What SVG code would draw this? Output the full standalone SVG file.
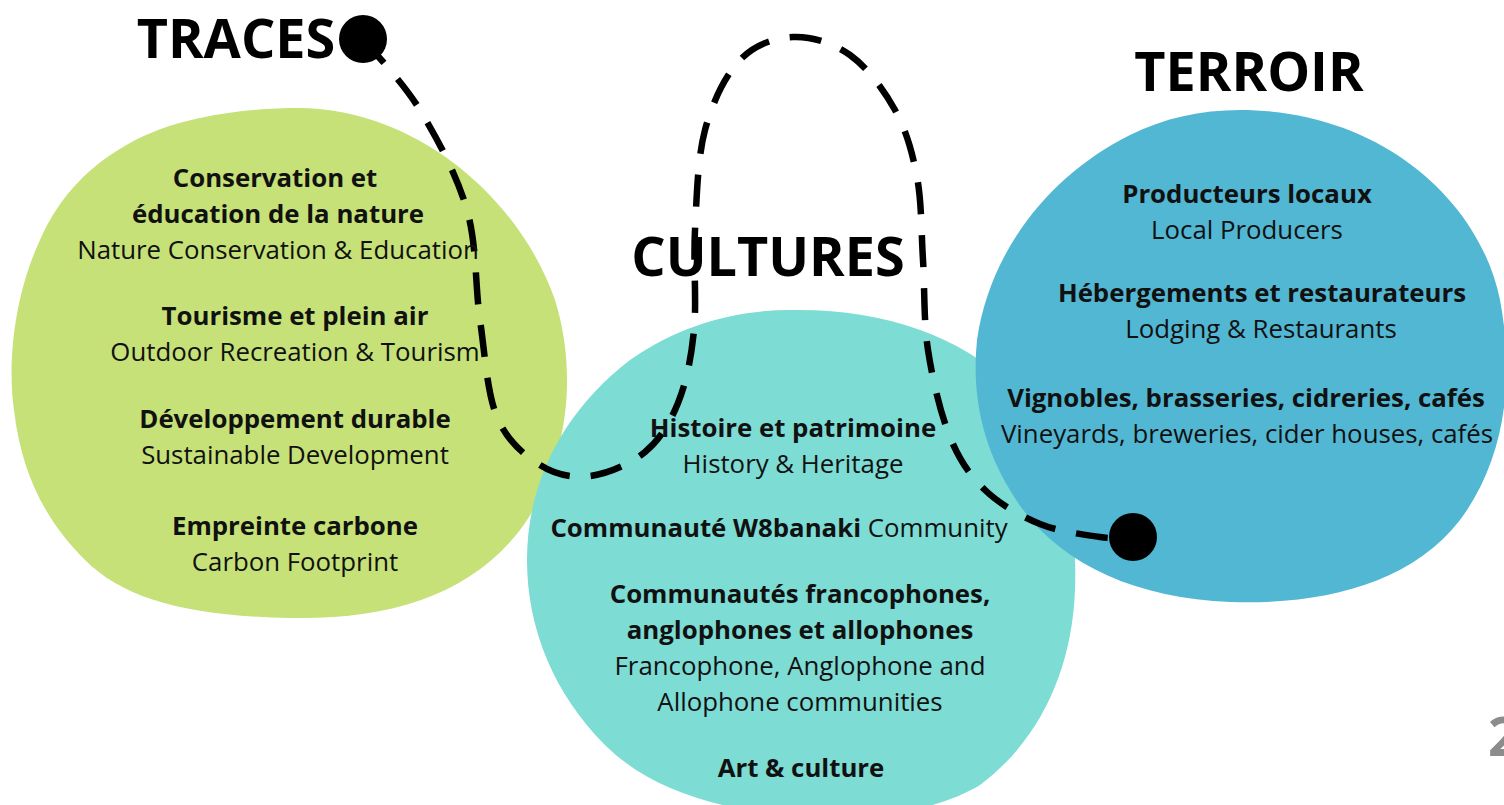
<svg xmlns="http://www.w3.org/2000/svg" width="1504" height="805" viewBox="0 0 1504 805">
<style>
text{font-family:"Open Sans","Liberation Sans",sans-serif;fill:#111;text-anchor:middle}
.t{font-size:54px;font-weight:700;fill:#000}
.b{font-size:25.8px;font-weight:700}
.r{font-size:25.8px;font-weight:400}
.dash{fill:none;stroke:#000;stroke-width:6.5;stroke-dasharray:32 21}
.dot{fill:#000}
</style>
<rect width="1504" height="805" fill="#fff"/>
<g id="traces-blob">
<path fill="#c5e178" d="M300,108 C420,110 520,200 555,300 C580,380 565,470 520,530 C470,595 390,620 290,618 C190,616 125,600 85,560 C50,525 22,480 14,410 C8,370 12,300 40,240 C60,195 90,165 130,143 C175,118 240,108 300,108 Z"/>
</g>
<g id="cultures-blob">
<path fill="#7ddcd4" d="M790,310 C880,308 960,335 1010,385 C1060,440 1078,510 1075,590 C1072,670 1040,740 980,785 C930,815 860,820 790,815 C720,810 650,790 605,745 C555,695 527,630 527,560 C527,480 565,410 630,360 C680,325 735,310 790,310 Z"/>
</g>
<g id="terroir-blob">
<path fill="#52b7d3" d="M1240,110 C1380,110 1480,200 1500,300 C1515,380 1505,460 1460,520 C1410,585 1320,605 1230,602 C1130,598 1050,560 1010,490 C980,440 972,390 977,340 C990,250 1050,175 1130,135 C1165,118 1200,110 1240,110 Z"/>
</g>
<g id="connectors">
<path class="dash" d="M363,39 C372.5,50.8 402.7,81.5 420,110 C437.3,138.5 457,175 467,210 C477,245 475,285.5 480,320 C485,354.5 487,392.8 497,417 C507,441.2 524.5,455.2 540,465 C555.5,474.8 572.5,478.2 590,476 C607.5,473.8 630.3,464.2 645,452 C659.7,439.8 669.8,423.3 678,403 C686.2,382.7 691.2,358.8 694,330 C696.8,301.2 693.2,263.3 695,230 C696.8,196.7 697.5,158.3 705,130 C712.5,101.7 725.3,75.5 740,60 C754.7,44.5 774.7,37.8 793,37 C811.3,36.2 833,42.8 850,55 C867,67.2 883.8,89.7 895,110 C906.2,130.3 912.3,152 917,177 C921.7,202 921.2,231.2 923,260 C924.8,288.8 923.5,320.5 928,350 C932.5,379.5 940.5,413.7 950,437 C959.5,460.3 970,475.5 985,490 C1000,504.5 1020.8,516.2 1040,524 C1059.2,531.8 1084.5,534.7 1100,537 C1115.5,539.3 1127.5,537.8 1133,538"/>
<circle class="dot" cx="363" cy="39" r="24"/>
<circle class="dot" cx="1133" cy="537" r="24"/>
</g>
<g id="traces">
<text class="t" x="236" y="58">TRACES</text>
<text class="b" x="275" y="187">Conservation et</text>
<text class="b" x="278" y="223">éducation de la nature</text>
<text class="r" x="278" y="259">Nature Conservation &amp; Education</text>
<text class="b" x="295" y="325">Tourisme et plein air</text>
<text class="r" x="295" y="361">Outdoor Recreation &amp; Tourism</text>
<text class="b" x="295" y="428">Développement durable</text>
<text class="r" x="295" y="464">Sustainable Development</text>
<text class="b" x="295" y="535">Empreinte carbone</text>
<text class="r" x="295" y="571">Carbon Footprint</text>
</g>
<g id="cultures">
<text class="t" x="768" y="276">CULTURES</text>
<text class="b" x="793" y="437">Histoire et patrimoine</text>
<text class="r" x="793" y="473">History &amp; Heritage</text>
<text class="b" x="779" y="537">Communauté W8banaki <tspan font-weight="400">Community</tspan></text>
<text class="b" x="800" y="603">Communautés francophones,</text>
<text class="b" x="800" y="639">anglophones et allophones</text>
<text class="r" x="800" y="675">Francophone, Anglophone and</text>
<text class="r" x="800" y="711">Allophone communities</text>
<text class="b" x="801" y="777">Art &amp; culture</text>
</g>
<g id="terroir">
<text class="t" x="1249" y="91">TERROIR</text>
<text class="b" x="1247" y="203">Producteurs locaux</text>
<text class="r" x="1247" y="239">Local Producers</text>
<text class="b" x="1262" y="302">Hébergements et restaurateurs</text>
<text class="r" x="1261" y="338">Lodging &amp; Restaurants</text>
<text class="b" x="1246" y="407">Vignobles, brasseries, cidreries, cafés</text>
<text class="r" x="1247" y="443">Vineyards, breweries, cider houses, cafés</text>
</g>
<text x="1488" y="756" style="font-size:54px;font-weight:700;fill:#8c8c8c;text-anchor:start">2</text>
</svg>
